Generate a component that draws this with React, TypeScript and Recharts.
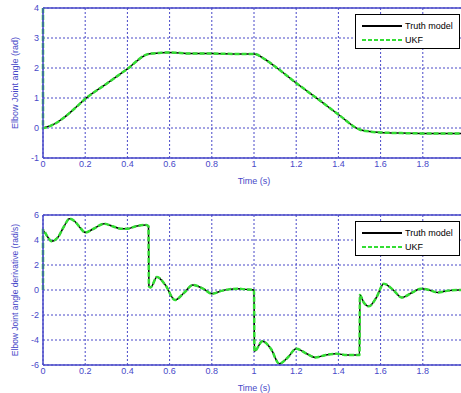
import React from "react";
import { CartesianGrid, Legend, Line, LineChart, ReferenceLine, XAxis, YAxis } from "recharts";

// time ticks shared by both panels
const timeTicks = [0, 0.2, 0.4, 0.6, 0.8, 1, 1.2, 1.4, 1.6, 1.8, 2];

// elbow joint angle (rad)
const angleTicks = [-1, 0, 1, 2, 3, 4];
const angleTime = [0, 0.05, 0.1, 0.15, 0.2, 0.3, 0.4, 0.5, 0.55, 0.6, 0.7, 0.8, 0.9, 1.0, 1.05, 1.1, 1.2, 1.3, 1.4, 1.5, 1.55, 1.6, 1.7, 1.8, 1.9, 2.0];
const angleTruth = [0, 0.12, 0.35, 0.65, 0.97, 1.47, 1.97, 2.47, 2.5, 2.52, 2.48, 2.48, 2.47, 2.47, 2.3, 2.05, 1.5, 0.98, 0.45, -0.05, -0.12, -0.15, -0.17, -0.18, -0.18, -0.18];
const angleUkfStart = 4;

// elbow joint angle derivative (rad/s)
const rateTicks = [-6, -4, -2, 0, 2, 4, 6];
const rateTime = [
  0, 0.02, 0.04, 0.07, 0.1, 0.125, 0.15, 0.18, 0.2, 0.24, 0.29, 0.33, 0.37, 0.4, 0.44, 0.49, 0.5,
  0.502, 0.51, 0.54, 0.58, 0.625, 0.67, 0.71, 0.76, 0.8, 0.85, 0.88, 0.92, 0.96, 1.0,
  1.002, 1.04, 1.08, 1.12, 1.16, 1.2, 1.25, 1.29, 1.34, 1.39, 1.44, 1.5,
  1.502, 1.52, 1.545, 1.58, 1.615, 1.66, 1.7, 1.75, 1.79, 1.83, 1.87, 1.92, 1.97, 2.0,
];
const rateTruth = [
  4.8, 4.3, 3.9, 4.2, 5.1, 5.7, 5.5, 4.9, 4.6, 4.9, 5.3, 5.1, 4.9, 4.9, 5.1, 5.2, 5.1,
  0.3, 0.2, 1.05, 0.4, -0.8, -0.2, 0.4, 0.1, -0.3, -0.05, 0.05, 0.1, 0.05, 0.0,
  -4.9, -4.1, -4.7, -5.9, -5.4, -4.7, -5.1, -5.4, -5.2, -5.1, -5.2, -5.2,
  -0.4, -1.0, -1.3, -0.6, 0.5, 0.0, -0.6, -0.2, 0.1, 0.0, -0.2, -0.05, 0.0, 0.0,
];
const rateUkfStart = 0;

const toPoints = (t: number[], v: number[]) => t.map((x, i) => ({ t: x, v: v[i] }));

const angleTruthData = toPoints(angleTime, angleTruth);
const angleUkfData = toPoints([0, ...angleTime], [angleUkfStart, ...angleTruth]);
const rateTruthData = toPoints(rateTime, rateTruth);
const rateUkfData = toPoints([0, ...rateTime], [rateUkfStart, ...rateTruth]);

const BLUE = "#4848c8";
const GREEN = "#33dd33";
const FONT = "'Liberation Sans', Arial, sans-serif";

const renderLegend = () => (
  <div
    style={{
      width: 103,
      height: 33,
      border: "1px solid #000",
      background: "#fff",
      fontFamily: FONT,
      fontSize: 9,
      color: "#000",
      whiteSpace: "nowrap",
    }}
  >
    <div style={{ display: "flex", alignItems: "center", height: 15, marginTop: 3 }}>
      <svg width={43} height={6} style={{ marginLeft: 6 }}>
        <line x1={0} y1={3} x2={40} y2={3} stroke="#000" strokeWidth={2} />
      </svg>
      <span>Truth model</span>
    </div>
    <div style={{ display: "flex", alignItems: "center", height: 14 }}>
      <svg width={43} height={6} style={{ marginLeft: 6 }}>
        <line x1={0} y1={3} x2={40} y2={3} stroke={GREEN} strokeWidth={2} strokeDasharray="4 2" />
      </svg>
      <span>UKF</span>
    </div>
  </div>
);

function Panel({
  height, top, bottom, ticks, domain, yLabel, labelSize, truth, ukf,
}: {
  height: number; top: number; bottom: number; ticks: number[]; domain: [number, number];
  yLabel: string; labelSize: number; truth: { t: number; v: number }[]; ukf: { t: number; v: number }[];
}) {
  return (
    <LineChart width={470} height={height} margin={{ top, right: 5, bottom, left: 0 }}>
      <CartesianGrid stroke={BLUE} strokeDasharray="2 2" strokeWidth={1} />
      <XAxis
        dataKey="t"
        type="number"
        domain={[0, 2]}
        ticks={timeTicks}
        tickFormatter={(v) => (v >= 2 ? "" : String(v))}
        stroke={BLUE}
        strokeWidth={1.5}
        tick={{ fill: BLUE, fontSize: 9, fontFamily: FONT }}
        tickSize={0}
        tickMargin={3}
        height={26}
        label={{ value: "Time (s)", position: "insideBottom", offset: 0, fill: BLUE, fontSize: 9, fontFamily: FONT }}
      />
      <YAxis
        dataKey="v"
        type="number"
        domain={domain}
        ticks={ticks}
        allowDataOverflow
        stroke={BLUE}
        strokeWidth={1.5}
        width={43}
        tick={{ fill: BLUE, fontSize: 9, fontFamily: FONT }}
        tickSize={0}
        tickMargin={4}
        label={{
          value: yLabel,
          angle: -90,
          position: "insideLeft",
          offset: 15,
          fill: BLUE,
          fontSize: labelSize,
          fontFamily: FONT,
          style: { textAnchor: "middle" },
        }}
      />
      <ReferenceLine y={domain[1]} stroke={BLUE} strokeWidth={1.5} />
      <Line data={truth} dataKey="v" type="monotoneX" stroke="#000" strokeWidth={1.5} dot={false} isAnimationActive={false} />
      <Line data={ukf} dataKey="v" type="monotoneX" stroke={GREEN} strokeWidth={2.5} strokeDasharray="5 2" dot={false} isAnimationActive={false} />
      <Legend
        layout="vertical"
        align="center"
        verticalAlign="middle"
        content={renderLegend}
        wrapperStyle={{ top: top + 6, left: 355, width: 105 }}
      />
    </LineChart>
  );
}

export default function App() {
  return (
    <div style={{ position: "absolute", left: 0, top: 0, width: 461, height: 393, overflow: "hidden", background: "#fff" }}>
      <Panel
        height={200}
        top={8}
        bottom={16}
        ticks={angleTicks}
        domain={[-1, 4]}
        yLabel="Elbow Joint angle (rad)"
        labelSize={9}
        truth={angleTruthData}
        ukf={angleUkfData}
      />
      <Panel
        height={193}
        top={15}
        bottom={2}
        ticks={rateTicks}
        domain={[-6, 6]}
        yLabel="Elbow Joint angle derivative (rad/s)"
        labelSize={8.5}
        truth={rateTruthData}
        ukf={rateUkfData}
      />
    </div>
  );
}
